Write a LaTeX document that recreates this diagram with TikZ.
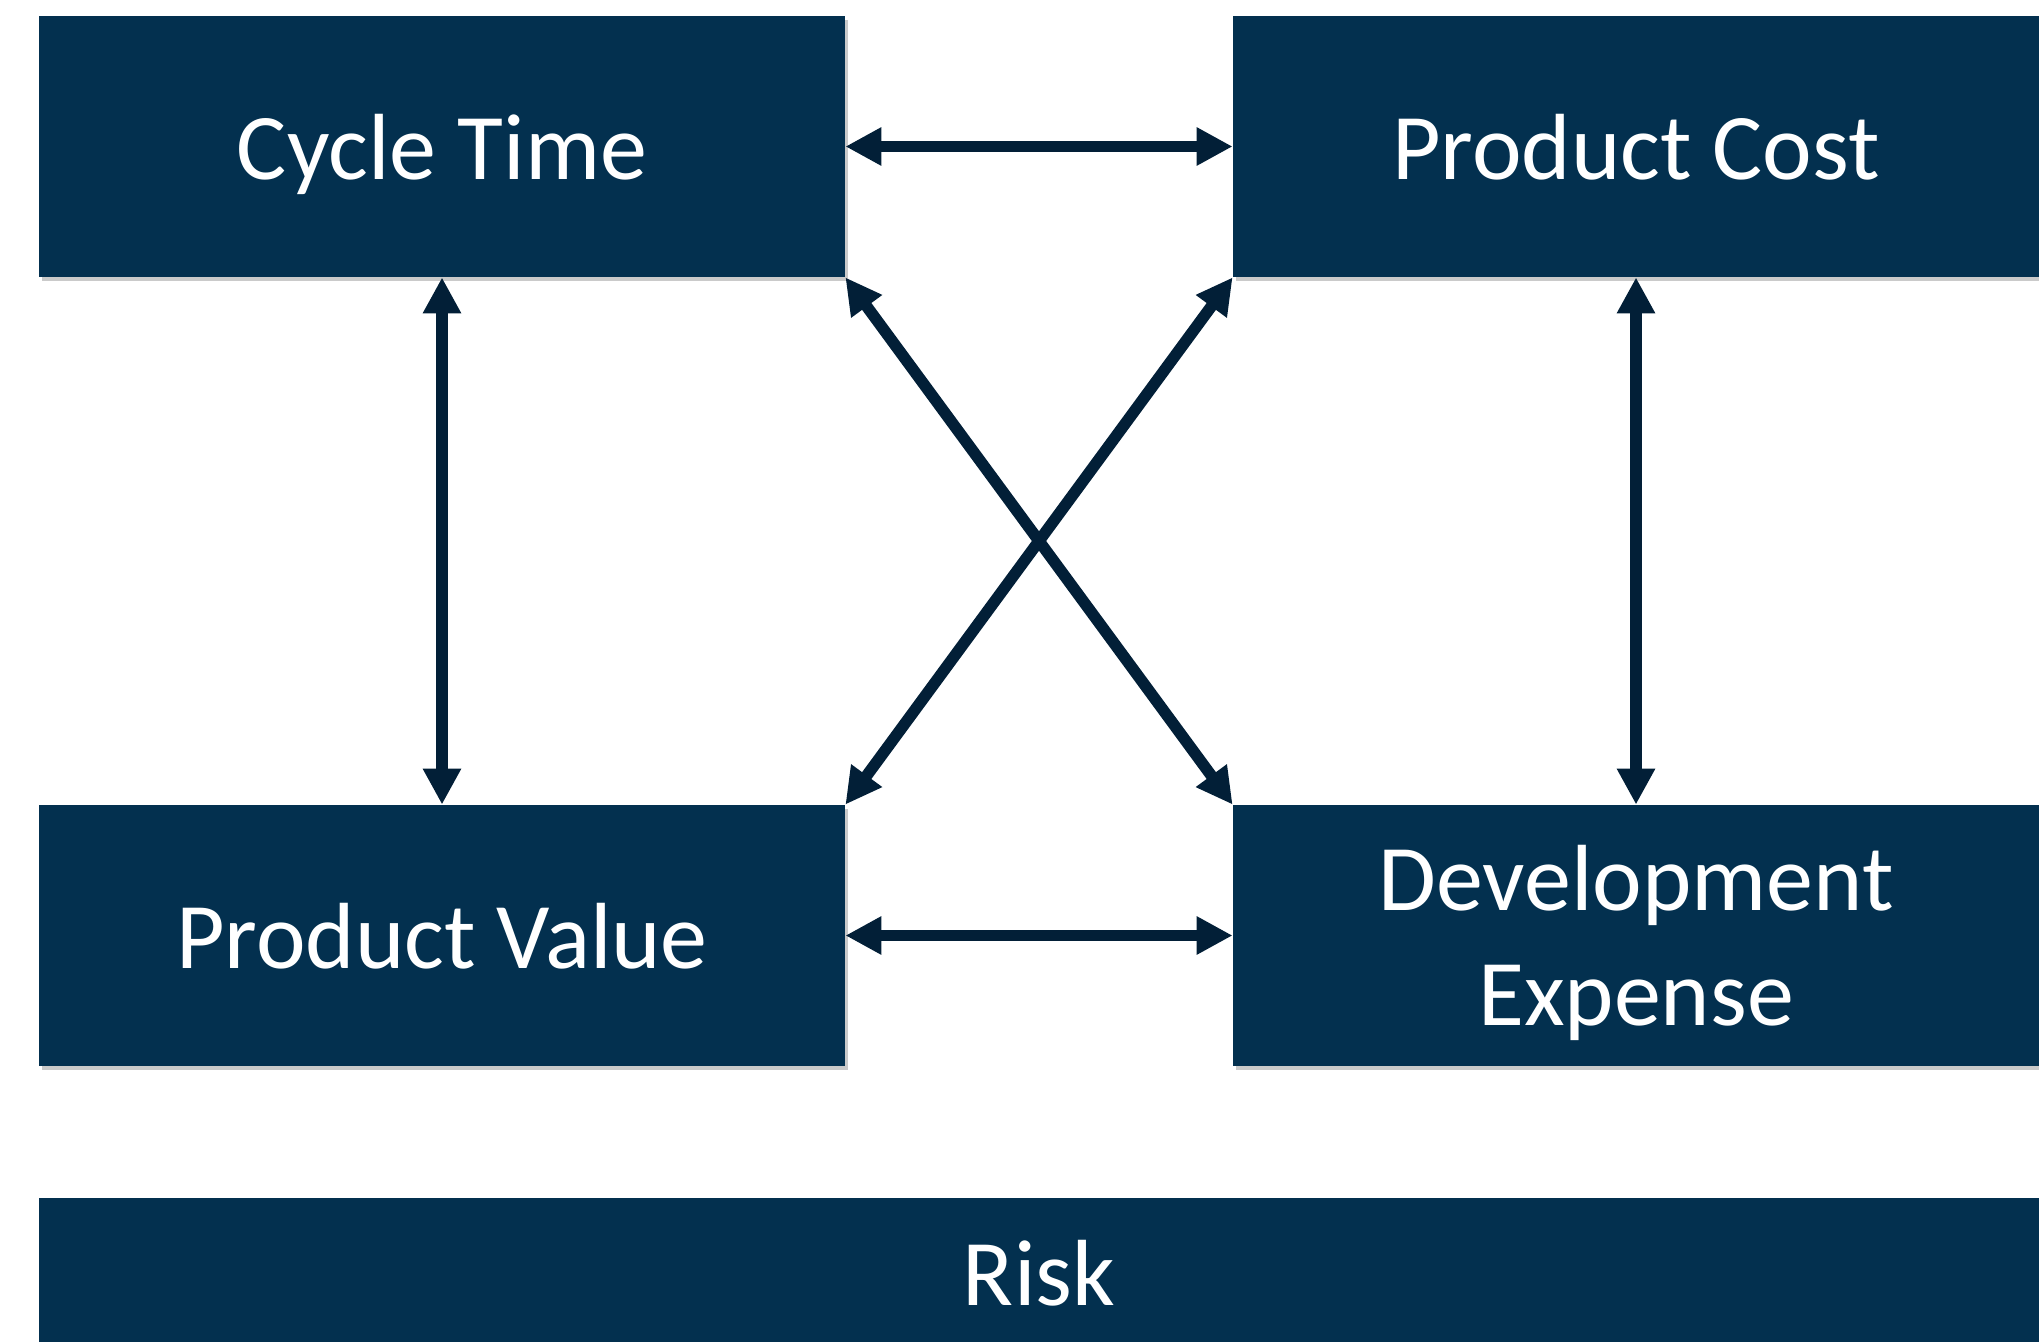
\documentclass[tikz,border=0pt]{standalone}
\usepackage{fontspec}
\setmainfont{Carlito}
\usetikzlibrary{arrows.meta,shadows}
\definecolor{boxblue}{HTML}{03304F}
\definecolor{arrowblue}{HTML}{021F37}
\begin{document}
\begin{tikzpicture}[x=0.5pt,y=-0.5pt,
  box/.style={rectangle, fill=boxblue, text=white, inner sep=0pt, align=center,
    text depth=0pt,
    font=\fontsize{47}{57.8}\selectfont,
    drop shadow={shadow xshift=1.5pt, shadow yshift=-2pt, opacity=0.35, fill=black!60}},
  link/.style={draw=arrowblue, line width=5.75pt,
    {Triangle[length=18pt,width=18pt]}-{Triangle[length=18pt,width=18pt]}}]
\useasboundingbox (0,0) rectangle (2039,1342);
\node[box, minimum width=403pt, minimum height=130.5pt] (ct) at (442,146.5) {Cycle Time};
\node[box, minimum width=403pt, minimum height=130.5pt] (pc) at (1636,146.5) {Product Cost};
\node[box, minimum width=403pt, minimum height=130.5pt] (pv) at (442,935.5) {Product Value};
\node[box, minimum width=403pt, minimum height=130.5pt] (de) at (1636,935.5) {Development\\Expense};
\node[box, minimum width=1000pt, minimum height=75pt] (risk) at (1039,1273) {Risk};
\draw[link] (ct.east) -- (pc.west);
\draw[link] (pv.east) -- (de.west);
\draw[link] (ct.south) -- (pv.north);
\draw[link] (pc.south) -- (de.north);
\draw[link] (ct.south east) -- (de.north west);
\draw[link] (pc.south west) -- (pv.north east);
\end{tikzpicture}
\end{document}
